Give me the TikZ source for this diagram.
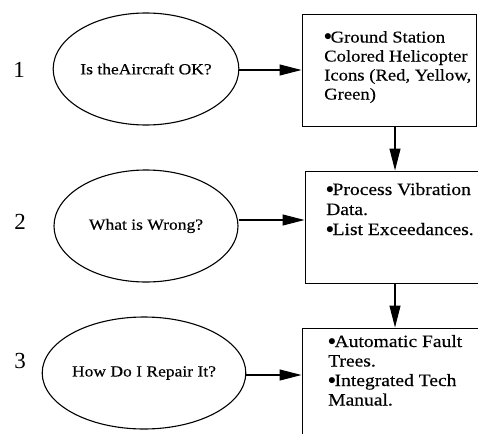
\documentclass[tikz,border=0pt]{standalone}
\usepackage{fontspec}
\setmainfont{Liberation Serif}
\newfontfamily\widefont[FakeStretch=1.13,FakeBold=0.3]{Liberation Serif}
\usepackage{graphicx}
\usetikzlibrary{shapes.geometric,arrows.meta}
\newcommand\bul{\raisebox{0.1em}{\scalebox{0.9}{$\bullet$}}\kern-0.08em}
\begin{document}
\begin{tikzpicture}[x=1pt,y=-1pt,
  qell/.style={ellipse,draw,line width=1.1pt,minimum width=184pt,minimum height=112pt,inner sep=0pt,font=\widefont\fontsize{15.5}{18}\selectfont},
  infobox/.style={rectangle,draw,line width=1pt,inner sep=0pt},
  boxtext/.style={anchor=base west,inner sep=0pt,align=left},
  num/.style={font=\fontsize{23}{24}\selectfont,anchor=base,inner sep=0pt},
  arr/.style={line width=1.1pt,-{Triangle[length=22pt,width=11pt]}}
]
\useasboundingbox (0,0) rectangle (478,433);
\clip (0,0) rectangle (478,433);
\fill[white] (0,0) rectangle (478,433);

% numbers
\node[num] (n1) at (19,77.7) {1};
\node[num] (n2) at (20,229.7) {2};
\node[num] (n3) at (20,368) {3};

% questions
\node[qell] (e1) at (146,69) {Is theAircraft OK?};
\node[qell] (e2) at (146,226) {What is Wrong?};
\node[qell,minimum width=182pt] (e3) at (144,373) {How Do I Repair It?};

% boxes
\node[infobox,minimum width=174pt,minimum height=111pt] (b1) at (389,70.5) {};
\node[infobox,minimum width=175pt,minimum height=112pt] (b2) at (392.5,227) {};
\node[infobox,minimum width=178pt,minimum height=117pt] (b3) at (391,386.5) {};

% box texts (anchored at the baseline of the last line)
\node[boxtext,font=\widefont\fontsize{16.5}{19}\selectfont] (t1) at (324,99.5)
  {\bul Ground Station\\Colored Helicopter\\Icons (Red, Yellow,\\Green)};
\node[boxtext,font=\widefont\fontsize{17.3}{20}\selectfont] (t2) at (326,235)
  {\bul Process Vibration\\Data.\\\bul List Exceedances.};
\node[boxtext,font=\widefont\fontsize{17.3}{19.5}\selectfont] (t3) at (328,405.5)
  {\bul Automatic Fault\\Trees.\\\bul Integrated Tech\\Manual.};

% horizontal arrows
\path ([yshift=-1pt]e1.east) coordinate (h1);
\path ([yshift=6pt]e2.east) coordinate (h2);
\path ([yshift=-2pt]e3.east) coordinate (h3);
\draw[arr] (h1) -- (h1 -| b1.west);
\draw[arr] (h2) -- (h2 -| b2.west);
\draw[arr] (h3) -- (h3 -| b3.west);

% vertical arrows
\path ([xshift=6pt]b1.south) coordinate (v1);
\path ([xshift=2.5pt]b2.south) coordinate (v2);
\draw[arr] (v1) -- (v1 |- b2.north);
\draw[arr] (v2) -- (v2 |- b3.north);
\end{tikzpicture}
\end{document}
